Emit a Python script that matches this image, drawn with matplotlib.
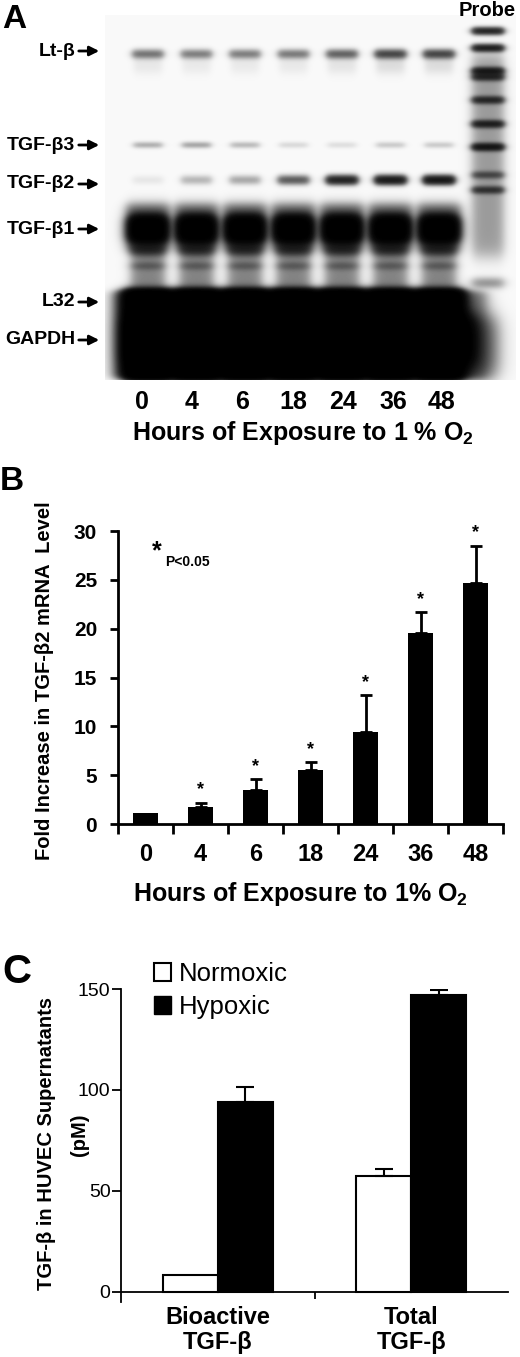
import numpy as np
import matplotlib.pyplot as plt
from matplotlib.patches import Patch

plt.rcParams['font.family'] = ['Liberation Sans', 'DejaVu Sans']
plt.rcParams['mathtext.fontset'] = 'custom'
plt.rcParams['mathtext.rm'] = 'Liberation Sans'
plt.rcParams['mathtext.bf'] = 'Liberation Sans:bold'

W, H = 520, 1357

# --- A: gel, relative band strength per lane (read by eye) ---
lanes = ['0', '4', '6', '18', '24', '36', '48']
bands = ['Lt-β', 'TGF-β3', 'TGF-β2', 'TGF-β1', 'L32', 'GAPDH']
lt_b = [0.45, 0.40, 0.40, 0.42, 0.55, 0.75, 0.75]
tgf_b3 = [0.30, 0.35, 0.25, 0.12, 0.10, 0.18, 0.18]
tgf_b2 = [0.03, 0.12, 0.15, 0.38, 0.75, 0.85, 0.90]
tgf_b1 = [1.0, 1.0, 1.0, 1.0, 1.0, 1.0, 1.0]
l32_gapdh = [1.0, 1.0, 1.0, 1.0, 1.0, 1.0, 1.0]
probe = [0.75, 0.80, 0.75, 0.60, 0.60, 0.70, 0.85, 0.35, 0.50]

# --- B: fold increase in TGF-b2 mRNA ---
hours = ['0', '4', '6', '18', '24', '36', '48']
fold = [1.1, 1.7, 3.5, 5.5, 9.4, 19.6, 24.7]
fold_err = [0.0, 0.5, 1.1, 0.85, 3.8, 2.1, 3.8]
signif = [False, True, True, True, True, True, True]

# --- C: TGF-b in supernatants (pM) ---
groups = ['Bioactive\nTGF-β', 'Total\nTGF-β']
normoxic = [8.3, 57.4]
normoxic_err = [0.0, 3.6]
hypoxic = [94.0, 147.2]
hypoxic_err = [7.7, 2.3]

fig = plt.figure(figsize=(W / 100, H / 100), dpi=100)

# overlay in pixel coords for the gel and loose labels
ov = fig.add_axes([0, 0, 1, 1])
ov.axis('off')

# layout of the gel (pixels)
lane_x = [148 + 48.5 * i for i in range(7)]
band_y = [51, 145, 184, 229, 302, 340]
probe_x = 488
probe_y = [31, 48, 71, 77, 100, 124, 147, 175, 190]

gx = np.arange(105, 516) + 0.5
gy = np.arange(15, 380) + 0.5
X, Y = np.meshgrid(gx, gy)


def lane(cx, hw, s):
    return 1 / (1 + np.exp((np.abs(X - cx) - hw) / s))


def band(y0, s):
    return np.exp(-0.5 * ((Y - y0) / s) ** 2)


def slab(y0, y1, s):
    return 1 / (1 + np.exp((y0 - Y) / s)) / (1 + np.exp((Y - y1) / s))


D = np.full(X.shape, 0.015)
for i, cx in enumerate(lane_x):
    D += 1.0 * lt_b[i] * lane(cx, 15, 2) * band(54, 3.2)
    D += 0.12 * lt_b[i] * lane(cx, 14, 2) * slab(57, 72, 3)
    D += 0.7 * tgf_b3[i] * lane(cx, 14, 2) * band(145, 2.2)
    D += 1.6 * tgf_b2[i] * lane(cx, 15, 2) * band(180, 3.2)
    D += 0.55 * tgf_b1[i] * lane(cx, 21, 3) * slab(205, 248, 3)
    D += 4.0 * tgf_b1[i] * lane(cx, 17, 3) * slab(218, 240, 3)
    D += 0.4 * lane(cx, 16, 3) * slab(240, 292, 3)
    D += 0.6 * lane(cx, 16, 3) * band(250, 4) + 0.25 * lane(cx, 15, 3) * band(266, 3)
    D += 5.0 * l32_gapdh[i] * lane(cx, 22, 4) * slab(291, 378, 2)
D += 3.0 * lane(300, 172, 4) * slab(320, 362, 5) * slab(0, 378, 1)
D += 0.5 * lane(300, 185, 4) * slab(292, 378, 2)
for y0, a in zip(probe_y, probe):
    D += 1.5 * a * lane(probe_x, 15, 2) * band(y0, 2.6)
D += 0.3 * lane(probe_x, 15, 3) * slab(55, 255, 5)
D += 0.3 * lane(probe_x, 15, 3) * band(283, 4)
D += 0.6 * lane(478, 18, 5) * slab(318, 375, 6)
img = 1 - np.exp(-1.6 * D)
ov.imshow(img, cmap='gray_r', vmin=0, vmax=1, extent=(105, 516, 380, 15),
          interpolation='bilinear', aspect='auto')
ov.set_xlim(0, W)
ov.set_ylim(H, 0)

for name, y in zip(bands, band_y):
    ov.text(75, y, name, ha='right', va='center', fontsize=14, weight='bold')
    ov.annotate('', xy=(102, y), xytext=(76, y),
                arrowprops=dict(arrowstyle='-|>', color='k', lw=2, mutation_scale=14))
ov.text(487, 11, 'Probe', ha='center', va='center', fontsize=14.5, weight='bold')
for lab, x in zip(lanes, [142, 192, 242, 293, 343, 393, 442]):
    ov.text(x, 402, lab, ha='center', va='center', fontsize=18, weight='bold')
ov.text(303, 433, r'Hours of Exposure to 1 % O$_\mathbf{2}$', ha='center', va='center',
        fontsize=18, weight='bold')

ov.text(2, 20, 'A', ha='left', va='center', fontsize=24, weight='bold')
ov.text(0, 481, 'B', ha='left', va='center', fontsize=24, weight='bold')
ov.text(2, 972, 'C', ha='left', va='center', fontsize=29, weight='bold')

# --- panel B ---
axB = fig.add_axes([118 / W, 1 - 824 / H, 385 / W, 293 / H])
axB.set_facecolor('none')
xb = np.arange(len(hours)) + 0.5
axB.bar(xb, fold, width=0.44, color='black')
axB.errorbar(xb[1:], fold[1:], yerr=[np.zeros(6), fold_err[1:]], fmt='none',
             ecolor='black', elinewidth=2, capsize=4, capthick=2)
for x, v, e, s in zip(xb, fold, fold_err, signif):
    if s:
        axB.annotate('*', (x, v + e), xytext=(0, 6), textcoords='offset points',
                     ha='center', va='baseline', fontsize=13, weight='bold',
                     annotation_clip=False)
axB.set_xlim(0, 7)
axB.set_ylim(0, 30)
axB.set_yticks([0, 5, 10, 15, 20, 25, 30])
axB.set_xticks(np.arange(8))
axB.set_xticklabels([])
axB.set_xticks(xb, minor=True)
axB.set_xticklabels(hours, minor=True)
axB.tick_params(axis='x', which='major', length=7, width=2, direction='out')
axB.tick_params(axis='x', which='minor', length=0, pad=14, labelsize=17)
axB.tick_params(axis='y', length=6, width=2, pad=9, labelsize=15)
for t in axB.get_xticklabels(minor=True) + axB.get_yticklabels():
    t.set_fontweight('bold')
for sp in ['top', 'right']:
    axB.spines[sp].set_visible(False)
for sp in ['left', 'bottom']:
    axB.spines[sp].set_linewidth(2)
axB.text(0.62, 27.9, '*', ha='left', va='center', fontsize=18, weight='bold')
axB.text(0.85, 26.8, 'P<0.05', ha='left', va='center', fontsize=10, weight='bold')

ov.text(45, 681, 'Fold Increase in TGF-β2 mRNA  Level', rotation=90,
        ha='center', va='center', fontsize=14.5, weight='bold')
ov.text(300, 894, r'Hours of Exposure to 1% O$_\mathbf{2}$', ha='center', va='center',
        fontsize=18, weight='bold')

# --- panel C ---
axC = fig.add_axes([121 / W, 1 - 1302 / H, 387 / W, 313 / H])
axC.set_facecolor('none')
axC.spines['bottom'].set_position(('data', 0))
for sp in ['top', 'right']:
    axC.spines[sp].set_visible(False)
for sp in ['left', 'bottom']:
    axC.spines[sp].set_linewidth(1.3)
xc = np.arange(len(groups)) + 0.5
bw = 0.284
axC.bar(xc - bw / 2, normoxic, width=bw, color='white', edgecolor='black', linewidth=1.5,
        label='Normoxic')
axC.bar(xc + bw / 2, hypoxic, width=bw, color='black', edgecolor='black', linewidth=1.5,
        label='Hypoxic')
axC.errorbar(xc[1:] - bw / 2, normoxic[1:], yerr=[[0], normoxic_err[1:]], fmt='none',
             ecolor='black', elinewidth=1.5, capsize=6.5, capthick=1.5)
axC.errorbar(xc + bw / 2, hypoxic, yerr=[np.zeros(2), hypoxic_err], fmt='none',
             ecolor='black', elinewidth=1.5, capsize=6.5, capthick=1.5)
axC.set_xlim(0, 2)
axC.set_ylim(-5, 150)
axC.set_yticks([0, 50, 100, 150])
axC.set_xticks(xc)
axC.set_xticks([1.0], minor=True)
axC.tick_params(axis='x', which='major', length=0, pad=10, labelsize=17)
axC.tick_params(axis='x', which='minor', length=5, width=1.3)
axC.tick_params(axis='y', length=6.5, width=1.3, pad=1, labelsize=14)
axC.set_xticklabels(groups, fontweight='bold', linespacing=1.1)
axC.legend(handles=[Patch(facecolor='white', edgecolor='black', lw=1.5, label='Normoxic'),
                    Patch(facecolor='black', edgecolor='black', label='Hypoxic')],
           loc='upper left', bbox_to_anchor=(154 / W, 1 - 962 / H),
           bbox_transform=fig.transFigure, frameon=False, fontsize=18.5,
           handlelength=0.65, handleheight=0.65, handletextpad=0.3,
           labelspacing=0.35, borderpad=0, borderaxespad=0)

ov.text(47, 1143, 'TGF-β in HUVEC Supernatants', rotation=90,
        ha='center', va='center', fontsize=14.5, weight='bold')
ov.text(79, 1135, '(pM)', rotation=90, ha='center', va='center', fontsize=14.5,
        weight='bold')

fig.savefig('out.png', dpi=100)
